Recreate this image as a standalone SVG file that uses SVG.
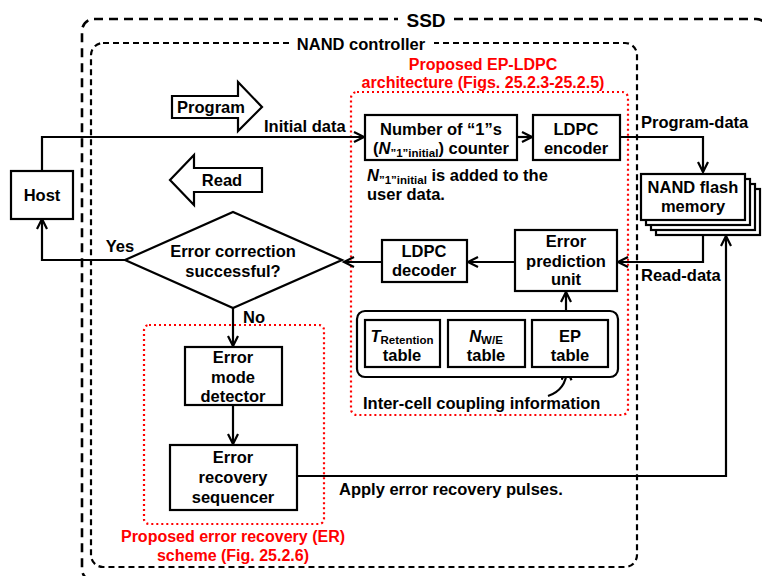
<svg xmlns="http://www.w3.org/2000/svg" width="762" height="576" viewBox="0 0 762 576">
  <defs>
    <marker id="arr" markerUnits="userSpaceOnUse" markerWidth="14" markerHeight="14" refX="11" refY="6" orient="auto">
      <path d="M1,1 L11,6 L1,11" fill="none" stroke="#000" stroke-width="2.2"/>
    </marker>
    <style>
      text { font-family: "Liberation Sans", Arial, sans-serif; font-weight: bold; font-size: 16.5px; fill: #000; }
      .c { text-anchor: middle; }
      .red { fill: #ff0000; font-size: 16px; }
      .sub { font-size: 11.5px; }
      .box { fill: #fff; stroke: #000; stroke-width: 2.2; }
      .wire { fill: none; stroke: #000; stroke-width: 2.2; }
      .dot { fill: none; stroke: #ff0000; stroke-width: 2.2; stroke-dasharray: 2 3; }
    </style>
  </defs>

  <rect width="762" height="576" fill="#fff"/>

  <!-- SSD enclosure -->
  <g id="ssd">
    <rect x="82" y="19" width="686" height="562" rx="12" fill="none" stroke="#000" stroke-width="2.6" stroke-dasharray="9 6"/>
    <rect x="398" y="8" width="56" height="24" fill="#fff"/>
    <text x="426" y="27" class="c" style="font-size:19px">SSD</text>
  </g>

  <!-- NAND controller enclosure -->
  <g id="nand-controller">
    <rect x="91" y="43" width="546" height="524" rx="12" fill="none" stroke="#000" stroke-width="2.2" stroke-dasharray="6 4"/>
    <rect x="290" y="34" width="144" height="20" fill="#fff"/>
    <text x="361" y="50" class="c">NAND controller</text>
  </g>

  <!-- EP-LDPC architecture region -->
  <g id="ep-ldpc">
    <rect x="351" y="92" width="277" height="323" rx="6" class="dot"/>
    <text x="483" y="70" class="c red">Proposed EP-LDPC</text>
    <text x="483" y="88" class="c red">architecture (Figs. 25.2.3-25.2.5)</text>
  </g>

  <!-- ER scheme region -->
  <g id="er-scheme">
    <rect x="144" y="325" width="180" height="199" rx="5" class="dot"/>
    <text x="233" y="542" class="c red">Proposed error recovery (ER)</text>
    <text x="233" y="561" class="c red">scheme (Fig. 25.2.6)</text>
  </g>

  <!-- Direction arrows -->
  <g id="program-arrow">
    <polygon points="172,96 238,96 238,82 262,107 238,131 238,118 172,118" class="box"/>
    <text x="211" y="113" class="c">Program</text>
  </g>
  <g id="read-arrow">
    <polygon points="262,168 194,168 194,155 170,180 194,205 194,192 262,192" class="box"/>
    <text x="222" y="186" class="c">Read</text>
  </g>

  <!-- Connectors -->
  <g id="connectors">
    <path d="M42,171 V137 H364" class="wire" marker-end="url(#arr)"/>
    <path d="M517,137 H532" class="wire" marker-end="url(#arr)"/>
    <path d="M620,137 H703 V172" class="wire" marker-end="url(#arr)"/>
    <path d="M703,235 V262 H618" class="wire" marker-end="url(#arr)"/>
    <path d="M515,262 H468" class="wire" marker-end="url(#arr)"/>
    <path d="M382,262 H344" class="wire" marker-end="url(#arr)"/>
    <path d="M125,260 H42 V219" class="wire" marker-end="url(#arr)"/>
    <path d="M566,311 V292" class="wire" marker-end="url(#arr)"/>
    <path d="M548,396 Q566,390 567,370" class="wire" marker-end="url(#arr)"/>
    <path d="M233,308 V346" class="wire" marker-end="url(#arr)"/>
    <path d="M233,405 V444" class="wire" marker-end="url(#arr)"/>
    <path d="M297,476 H726 V236" class="wire" marker-end="url(#arr)"/>
    <text x="264" y="132">Initial data</text>
    <text x="641" y="128">Program-data</text>
    <text x="641" y="281">Read-data</text>
    <text x="120" y="252" class="c">Yes</text>
    <text x="243" y="323">No</text>
    <text x="339" y="495">Apply error recovery pulses.</text>
    <text x="363" y="409">Inter-cell coupling information</text>
  </g>

  <!-- Nodes -->
  <g id="host">
    <rect x="11" y="171" width="62" height="48" class="box"/>
    <text x="42" y="201" class="c">Host</text>
  </g>

  <g id="counter">
    <rect x="365" y="115" width="152" height="45" class="box"/>
    <text x="441" y="135" class="c">Number of “1”s</text>
    <text x="441" y="154" class="c">(<tspan font-style="italic">N</tspan><tspan class="sub" dy="3">”1”initial</tspan><tspan dy="-3">) counter</tspan></text>
    <text x="367" y="181"><tspan font-style="italic">N</tspan><tspan class="sub" dy="3">”1”initial</tspan><tspan dy="-3"> is added to the</tspan></text>
    <text x="367" y="200">user data.</text>
  </g>

  <g id="ldpc-encoder">
    <rect x="533" y="115" width="87" height="45" class="box"/>
    <text x="576" y="135" class="c">LDPC</text>
    <text x="576" y="154" class="c">encoder</text>
  </g>

  <g id="nand-flash">
    <rect x="656" y="189" width="104" height="46" class="box"/>
    <rect x="651" y="184" width="104" height="46" class="box"/>
    <rect x="646" y="179" width="104" height="46" class="box"/>
    <rect x="641" y="174" width="104" height="46" class="box"/>
    <text x="693" y="193" class="c">NAND flash</text>
    <text x="693" y="212" class="c">memory</text>
  </g>

  <g id="error-prediction">
    <rect x="515" y="230" width="102" height="61" class="box"/>
    <text x="566" y="247" class="c">Error</text>
    <text x="566" y="267" class="c">prediction</text>
    <text x="566" y="285" class="c">unit</text>
  </g>

  <g id="ldpc-decoder">
    <rect x="382" y="240" width="85" height="42" class="box"/>
    <text x="424" y="257" class="c">LDPC</text>
    <text x="424" y="276" class="c">decoder</text>
  </g>

  <g id="tables">
    <rect x="357" y="311" width="261" height="66" rx="8" class="box"/>
    <rect x="365" y="320" width="75" height="47" class="box"/>
    <text x="402" y="342" class="c"><tspan font-style="italic">T</tspan><tspan class="sub" dy="2">Retention</tspan></text>
    <text x="402" y="361" class="c">table</text>
    <rect x="448" y="320" width="77" height="47" class="box"/>
    <text x="486" y="342" class="c"><tspan font-style="italic">N</tspan><tspan class="sub" dy="2">W/E</tspan></text>
    <text x="486" y="361" class="c">table</text>
    <rect x="532" y="320" width="76" height="47" class="box"/>
    <text x="570" y="342" class="c">EP</text>
    <text x="570" y="361" class="c">table</text>
  </g>

  <g id="decision">
    <polygon points="125,260 233,212 342,260 233,308" class="box"/>
    <text x="233" y="257" class="c">Error correction</text>
    <text x="233" y="277" class="c">successful?</text>
  </g>

  <g id="error-mode-detector">
    <rect x="185" y="347" width="97" height="58" class="box"/>
    <text x="233" y="363" class="c">Error</text>
    <text x="233" y="383" class="c">mode</text>
    <text x="233" y="402" class="c">detector</text>
  </g>

  <g id="recovery-sequencer">
    <rect x="170" y="445" width="127" height="65" class="box"/>
    <text x="233" y="463" class="c">Error</text>
    <text x="233" y="483" class="c">recovery</text>
    <text x="233" y="503" class="c">sequencer</text>
  </g>
</svg>
